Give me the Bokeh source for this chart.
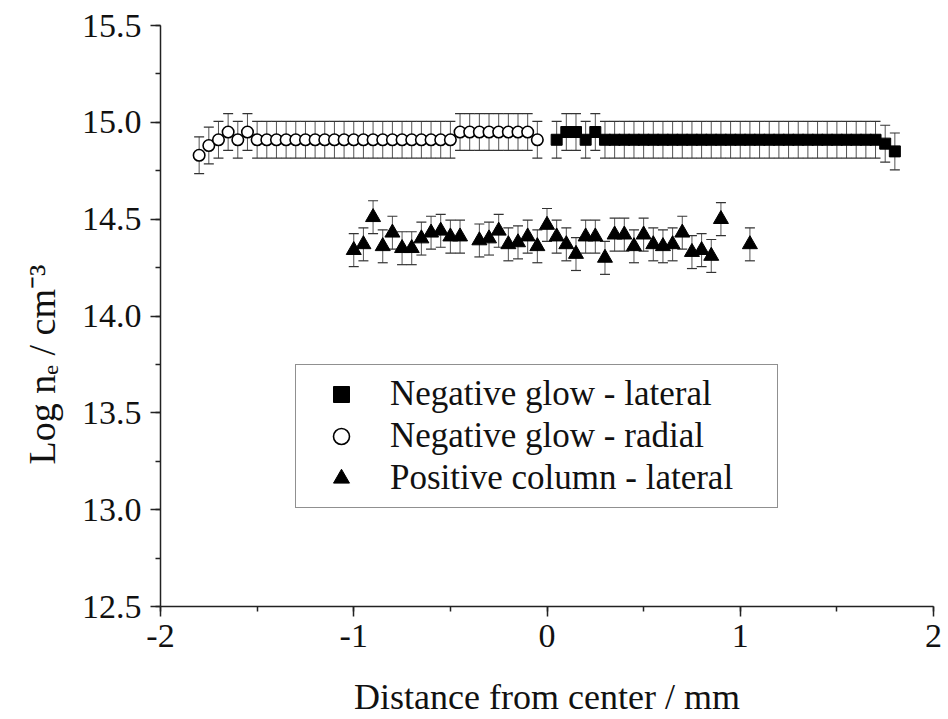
from bokeh.plotting import figure
from bokeh.models import (ColumnDataSource, Whisker, TeeHead, Range1d, SingleIntervalTicker,
                          PrintfTickFormatter, Legend, LegendItem, Title)
from bokeh.embed import file_html
from bokeh.resources import INLINE

# ---------------- data ----------------
lateral_x = [0.05, 0.10, 0.15, 0.20, 0.25, 0.30, 0.35, 0.40, 0.45, 0.50, 0.55, 0.60,
             0.65, 0.70, 0.75, 0.80, 0.85, 0.90, 0.95, 1.00, 1.05, 1.10, 1.15, 1.20,
             1.25, 1.30, 1.35, 1.40, 1.45, 1.50, 1.55, 1.60, 1.65, 1.70, 1.75, 1.80]
lateral_y = [14.91, 14.95, 14.95, 14.91, 14.95, 14.91, 14.91, 14.91, 14.91, 14.91, 14.91, 14.91,
             14.91, 14.91, 14.91, 14.91, 14.91, 14.91, 14.91, 14.91, 14.91, 14.91, 14.91, 14.91,
             14.91, 14.91, 14.91, 14.91, 14.91, 14.91, 14.91, 14.91, 14.91, 14.91, 14.89, 14.85]
lateral_err = 0.095

radial_x = [-1.80, -1.75, -1.70, -1.65, -1.60, -1.55, -1.50, -1.45, -1.40, -1.35, -1.30, -1.25,
            -1.20, -1.15, -1.10, -1.05, -1.00, -0.95, -0.90, -0.85, -0.80, -0.75, -0.70, -0.65,
            -0.60, -0.55, -0.50, -0.45, -0.40, -0.35, -0.30, -0.25, -0.20, -0.15, -0.10, -0.05]
radial_y = [14.83, 14.88, 14.91, 14.95, 14.91, 14.95, 14.91, 14.91, 14.91, 14.91, 14.91, 14.91,
            14.91, 14.91, 14.91, 14.91, 14.91, 14.91, 14.91, 14.91, 14.91, 14.91, 14.91, 14.91,
            14.91, 14.91, 14.91, 14.95, 14.95, 14.95, 14.95, 14.95, 14.95, 14.95, 14.95, 14.91]
radial_err = 0.095

column_x = [-1.00, -0.95, -0.90, -0.85, -0.80, -0.75, -0.70, -0.65, -0.60, -0.55, -0.50, -0.45,
            -0.35, -0.30, -0.25, -0.20, -0.15, -0.10, -0.05, 0.00, 0.05, 0.10, 0.15, 0.20,
            0.25, 0.30, 0.35, 0.40, 0.45, 0.50, 0.55, 0.60, 0.65, 0.70, 0.75, 0.80,
            0.85, 0.90, 1.05]
column_y = [14.34, 14.37, 14.51, 14.36, 14.43, 14.35, 14.35, 14.40, 14.43, 14.44, 14.41, 14.41,
            14.39, 14.40, 14.44, 14.37, 14.38, 14.41, 14.36, 14.47, 14.41, 14.37, 14.32, 14.41,
            14.41, 14.30, 14.42, 14.42, 14.36, 14.42, 14.37, 14.36, 14.37, 14.43, 14.33, 14.34,
            14.31, 14.50, 14.37]
column_err = 0.085

series_labels = ["Negative glow - lateral", "Negative glow - radial", "Positive column - lateral"]
x_title = "Distance from center / mm"
y_title = "Log n\u2091 / cm\u207b\u00b3"

FONT = "Liberation Serif"


def make_source(xs, ys, err):
    return ColumnDataSource(dict(x=xs, y=ys,
                                 upper=[v + err for v in ys],
                                 lower=[v - err for v in ys]))


src_lat = make_source(lateral_x, lateral_y, lateral_err)
src_rad = make_source(radial_x, radial_y, radial_err)
src_col = make_source(column_x, column_y, column_err)

p = figure(width=948, height=719, output_backend="svg", toolbar_location=None,
           x_range=Range1d(-2, 2), y_range=Range1d(12.5, 15.5),
           min_border_left=160, min_border_right=15, min_border_top=25, min_border_bottom=112)
p.grid.visible = False
p.outline_line_color = None
p.background_fill_color = "white"
p.border_fill_color = "white"

# error bars
for src in (src_lat, src_rad, src_col):
    w = Whisker(source=src, base="x", upper="upper", lower="lower",
                line_color="#555555", line_width=1,
                upper_head=TeeHead(size=10, line_color="#333333", line_width=1.2),
                lower_head=TeeHead(size=10, line_color="#333333", line_width=1.2))
    p.add_layout(w)

r_lat = p.scatter("x", "y", source=src_lat, marker="square", size=11,
                  fill_color="black", line_color="black")
r_rad = p.scatter("x", "y", source=src_rad, marker="circle", size=11.5,
                  fill_color="white", line_color="black", line_width=1.6)
r_col = p.scatter("x", "y", source=src_col, marker="triangle", size=15,
                  fill_color="black", line_color="black")

# axes
xa = p.xaxis[0]
ya = p.yaxis[0]
xa.ticker = SingleIntervalTicker(interval=1, num_minor_ticks=2)
ya.ticker = SingleIntervalTicker(interval=0.5, num_minor_ticks=2)
xa.formatter = PrintfTickFormatter(format="%d")
ya.formatter = PrintfTickFormatter(format="%.1f")
for ax in (xa, ya):
    ax.axis_line_color = "#222222"
    ax.axis_line_width = 1.5
    ax.major_tick_line_color = "#222222"
    ax.minor_tick_line_color = "#222222"
    ax.major_tick_line_width = 1.5
    ax.minor_tick_line_width = 1.5
    ax.major_tick_in = 0
    ax.major_tick_out = 10
    ax.minor_tick_in = 0
    ax.minor_tick_out = 5
    ax.major_label_text_font = FONT
    ax.major_label_text_font_size = "34px"
    ax.major_label_text_color = "#111111"
    ax.axis_label_text_font = FONT
    ax.axis_label_text_font_size = "36px"
    ax.axis_label_text_font_style = "normal"
    ax.axis_label_text_color = "#111111"
xa.axis_label = x_title
xa.major_label_standoff = 8
ya.major_label_standoff = 9
xa.axis_label_standoff = 27

# y-axis title as a side title so it can sit lower than the frame centre, as in the original
ytitle = Title(text=y_title, align="left", offset=142, standoff=31,
               text_font=FONT, text_font_size="38px", text_font_style="normal",
               text_color="#111111")
p.add_layout(ytitle, "left")

legend = Legend(items=[LegendItem(label=series_labels[0], renderers=[r_lat]),
                       LegendItem(label=series_labels[1], renderers=[r_rad]),
                       LegendItem(label=series_labels[2], renderers=[r_col])],
                location=(135, 98), orientation="vertical",
                glyph_width=72, glyph_height=40, label_height=40, label_width=378,
                spacing=2, padding=9, margin=0, label_standoff=13,
                label_text_font=FONT, label_text_font_size="35px", label_text_color="#111111",
                border_line_color="#222222", border_line_width=1.5,
                background_fill_color="white", background_fill_alpha=1.0)
p.add_layout(legend)

open("out.html", "w").write(file_html(p, INLINE))
